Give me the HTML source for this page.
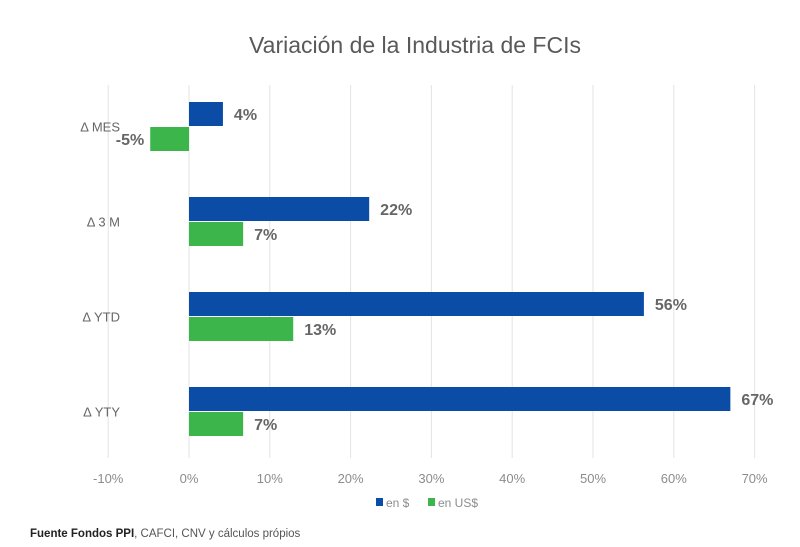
<!DOCTYPE html>
<html><head><meta charset="utf-8"><style>
body{margin:0;background:#fff;width:800px;height:542px;overflow:hidden;font-family:"Liberation Sans",sans-serif}
</style></head><body>
<svg id="c" width="800" height="542" xmlns="http://www.w3.org/2000/svg">
<text x="415" y="53" text-anchor="middle" font-size="23" fill="#595959">Variación de la Industria de FCIs</text>
<g id="grid"></g><g id="bars"></g><g id="labels"></g>
<g>
<rect x="376" y="498" width="7" height="8" fill="#0a4ca6"/>
<text x="386" y="507" font-size="12" fill="#8c8c8c">en $</text>
<rect x="428" y="498" width="7" height="8" fill="#3cb64a"/>
<text x="438" y="507" font-size="12" fill="#8c8c8c">en US$</text>
</g>
<text x="30" y="537" font-size="11.5" fill="#222"><tspan font-weight="bold">Fuente Fondos PPI</tspan><tspan fill="#555">, CAFCI, CNV y cálculos própios</tspan></text>
</svg>
<script>
const categories=["Δ MES","Δ 3 M","Δ YTD","Δ YTY"];
const pesos=[4.2,22.3,56.3,67.0];
const usd=[-4.8,6.7,12.9,6.7];
const pesosLabels=["4%","22%","56%","67%"];
const usdLabels=["-5%","7%","13%","7%"];
const ticks=[-10,0,10,20,30,40,50,60,70];
const NS="http://www.w3.org/2000/svg";
const x=v=>189+v*8.08;
const yc=i=>126.5+i*95;
function mk(t,a,p){const e=document.createElementNS(NS,t);for(const k in a)e.setAttribute(k,a[k]);document.getElementById(p).appendChild(e);return e;}
ticks.forEach(t=>{
 const g=mk("line",{x1:x(t),x2:x(t),y1:85,y2:458,stroke:"#e3e3e3","stroke-width":1},"grid");
 
 
 const l=mk("text",{x:x(t),y:483,"text-anchor":"middle","font-size":13,fill:"#8c8c8c"},"grid");
 l.textContent=t+"%";
 
 
});
categories.forEach((c,i)=>{
 const cl=mk("text",{x:120,y:yc(i)+5,"text-anchor":"end","font-size":13,fill:"#666"},"labels");
 cl.textContent=c;
 
 
 [[pesos,"#0a4ca6",-24.5,pesosLabels],[usd,"#3cb64a",0.5,usdLabels]].forEach(([s,col,dy,lab])=>{
  const v=s[i];
  const r=mk("rect",{x:Math.min(x(0),x(v)),y:yc(i)+dy,width:Math.abs(x(v)-x(0)),height:24,fill:col},"bars");
  
  
  const t=mk("text",{x:v<0?x(v)-6:x(v)+11,y:yc(i)+dy+18,"text-anchor":v<0?"end":"start","font-size":16,"font-weight":"bold",fill:"#666"},"labels");
  t.textContent=lab[i];
  
  
 });
});
</script>
</body></html>
